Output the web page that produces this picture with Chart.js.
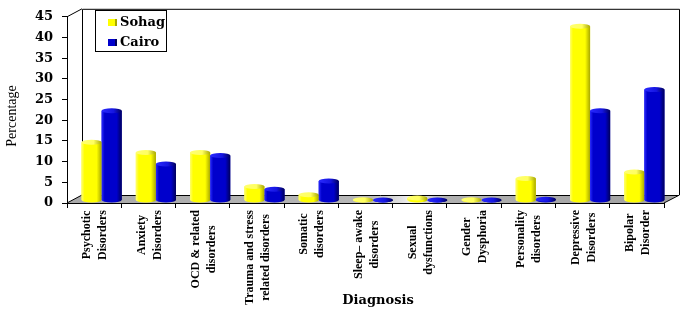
<!DOCTYPE html>
<html lang="en">
  <head>
    <meta charset="UTF-8" />
    <title>Diagnosis by city</title>
    <style>
      * { margin: 0; padding: 0; box-sizing: border-box; }
      body { background: white; }
      .chartBox { width: 685px; height: 310px; }
    </style>
  </head>
  <body>
    <div class="chartBox">
      <canvas id="myChart"></canvas>
    </div>

    <script src="https://cdn.jsdelivr.net/npm/chart.js"></script>
    <script>
      const categories = [
        ["Psychotic", "Disorders"],
        ["Anxiety", "Disorders"],
        ["OCD & related", "disorders"],
        ["Trauma and stress", "related disorders"],
        ["Somatic", "disorders"],
        ["Sleep\u2013 awake", "disorders"],
        ["Sexual", "dysfunctions"],
        ["Gender", "Dysphoria"],
        ["Personality", "disorders"],
        ["Depressive", "Disorders"],
        ["Bipolar", "Disorder"],
      ];
      const sohag = [14.1, 11.6, 11.6, 3.4, 1.4, 0.2, 0.6, 0.2, 5.3, 42.1, 6.9];
      const cairo = [21.7, 8.8, 10.9, 2.7, 4.7, 0.1, 0.1, 0.1, 0.3, 21.7, 26.8];
      const yTicks = [0, 5, 10, 15, 20, 25, 30, 35, 40, 45];
      const xTitle = "Diagnosis";
      const yTitle = "Percentage";

      const palettes = [
        { light: "#ffff70", main: "#ffff00", dark: "#a8a800", top: "#ffff60" },
        { light: "#2a2aff", main: "#0000cc", dark: "#00005a", top: "#1515e0" },
      ];
      const depthX = 15, depthY = -8;
      const barShiftX = 7.5, barShiftY = -2.5;

      const frame3d = {
        id: "frame3d",
        beforeDatasetsDraw(chart) {
          const { ctx, chartArea: { top, bottom, left, right } } = chart;
          ctx.save();
          // floor
          const g = ctx.createLinearGradient(left, 0, right + depthX, 0);
          g.addColorStop(0, "#a9a9a9");
          g.addColorStop(0.5, "#b8b8b8");
          g.addColorStop(0.56, "#eeeeee");
          g.addColorStop(0.62, "#b0b0b0");
          g.addColorStop(1, "#a0a0a0");
          ctx.fillStyle = g;
          ctx.beginPath();
          ctx.moveTo(left, bottom);
          ctx.lineTo(right, bottom);
          ctx.lineTo(right + depthX, bottom + depthY);
          ctx.lineTo(left + depthX, bottom + depthY);
          ctx.closePath();
          ctx.fill();

          ctx.strokeStyle = "#000";
          ctx.lineWidth = 1;
          ctx.beginPath();
          // back wall
          ctx.moveTo(left + depthX + 0.5, bottom + depthY);
          ctx.lineTo(left + depthX + 0.5, top + depthY + 0.5);
          ctx.lineTo(right + depthX + 0.5, top + depthY + 0.5);
          ctx.lineTo(right + depthX + 0.5, bottom + depthY);
          ctx.lineTo(right, bottom);
          // floor back edge
          ctx.moveTo(left + depthX, bottom + depthY + 0.5);
          ctx.lineTo(right + depthX, bottom + depthY + 0.5);
          // left diagonals
          ctx.moveTo(left, top);
          ctx.lineTo(left + depthX, top + depthY);
          ctx.moveTo(left, bottom);
          ctx.lineTo(left + depthX, bottom + depthY);
          ctx.stroke();
          ctx.restore();

          ctx.save();
          ctx.translate(barShiftX, barShiftY);
        },
        afterDatasetsDraw(chart) {
          const ctx = chart.ctx;
          const ry = 2.5;
          for (let i = 0; i < categories.length; i++) {
            for (let d = 0; d < 2; d++) {
              const el = chart.getDatasetMeta(d).data[i];
              const { x, y, base, width } = el.getProps(["x", "y", "base", "width"], true);
              const l = x - width / 2, r = x + width / 2;
              const pal = palettes[d];
              const g = ctx.createLinearGradient(l, 0, r, 0);
              g.addColorStop(0, pal.light);
              g.addColorStop(0.15, pal.main);
              g.addColorStop(0.75, pal.main);
              g.addColorStop(1, pal.dark);
              ctx.fillStyle = g;
              ctx.beginPath();
              ctx.moveTo(l, y);
              ctx.lineTo(l, base);
              ctx.ellipse(x, base, width / 2, ry, 0, Math.PI, 0, true);
              ctx.lineTo(r, y);
              ctx.closePath();
              ctx.fill();

              const gt = ctx.createLinearGradient(l, 0, r, 0);
              gt.addColorStop(0, pal.light);
              gt.addColorStop(0.6, pal.top);
              gt.addColorStop(1, pal.dark);
              ctx.fillStyle = gt;
              ctx.beginPath();
              ctx.ellipse(x, y, width / 2, ry, 0, 0, Math.PI * 2);
              ctx.fill();
            }
          }
          ctx.restore();

          // category labels, rotated, lines centred on each other
          const xs = chart.scales.x;
          const labelTop = chart.chartArea.bottom + 7;
          ctx.save();
          ctx.font = "bold 12px 'Liberation Serif', 'Times New Roman', serif";
          ctx.fillStyle = "#000";
          ctx.textAlign = "center";
          ctx.textBaseline = "middle";
          categories.forEach((lines, i) => {
            const cx = xs.getPixelForValue(i) + 1;
            const maxW = Math.max(...lines.map((t) => ctx.measureText(t).width));
            ctx.save();
            ctx.translate(cx, labelTop);
            ctx.rotate(-Math.PI / 2);
            const lh = 16;
            lines.forEach((t, k) => {
              ctx.fillText(t, -maxW / 2, (k - (lines.length - 1) / 2) * lh);
            });
            ctx.restore();
          });

          // axis titles
          ctx.font = "bold 13px 'DejaVu Serif', serif";
          ctx.fillText(xTitle, 378, 301);
          ctx.font = "14px 'Liberation Serif', 'Times New Roman', serif";
          ctx.translate(12, 116);
          ctx.rotate(-Math.PI / 2);
          ctx.fillText(yTitle, 0, 0);
          ctx.restore();
        },
        afterDraw(chart) {
          const ctx = chart.ctx;
          ctx.save();
          ctx.fillStyle = "#fff";
          ctx.fillRect(95, 10, 71, 42);
          ctx.strokeStyle = "#000";
          ctx.lineWidth = 1;
          ctx.strokeRect(95.5, 10.5, 71, 41);
          const items = [
            { text: "Sohag", y: 22 },
            { text: "Cairo", y: 42 },
          ];
          ctx.font = "bold 13px 'DejaVu Serif', serif";
          ctx.textBaseline = "middle";
          items.forEach((it, k) => {
            ctx.fillStyle = palettes[k].main;
            ctx.fillRect(108, it.y - 3, 9, 7);
            ctx.fillStyle = palettes[k].dark;
            ctx.fillRect(115, it.y - 3, 2, 7);
            ctx.fillStyle = "#000";
            ctx.fillText(it.text, 120, it.y + 1);
          });
          ctx.restore();
        },
      };

      const data = {
        labels: categories,
        datasets: [
          { label: "Sohag", data: sohag, backgroundColor: palettes[0].main, borderWidth: 0 },
          { label: "Cairo", data: cairo, backgroundColor: palettes[1].main, borderWidth: 0 },
        ],
      };

      const config = {
        type: "bar",
        data: data,
        options: {
          responsive: true,
          maintainAspectRatio: false,
          animation: false,
          layout: { padding: { top: 12, right: 21, left: 0, bottom: 0 } },
          datasets: { bar: { categoryPercentage: 0.74, barPercentage: 1 } },
          plugins: { legend: { display: false }, tooltip: { enabled: false } },
          scales: {
            x: {
              afterFit: (s) => { s.height = 107; },
              grid: { drawOnChartArea: false, color: "#000", tickLength: 5, offset: true },
              border: { color: "#000", width: 1 },
              ticks: { display: false },
            },
            y: {
              min: 0,
              max: 45,
              afterFit: (s) => { s.width = 67; },
              afterBuildTicks: (s) => { s.ticks = yTicks.map((v) => ({ value: v })); },
              grid: { drawOnChartArea: false, color: "#000", tickLength: 5 },
              border: { color: "#000", width: 1 },
              ticks: {
                color: "#000",
                padding: 9,
                font: { family: "'DejaVu Serif', serif", size: 13, weight: "bold" },
              },
            },
          },
        },
        plugins: [frame3d],
      };

      const myChart = new Chart(document.getElementById("myChart"), config);
    </script>
  </body>
</html>
